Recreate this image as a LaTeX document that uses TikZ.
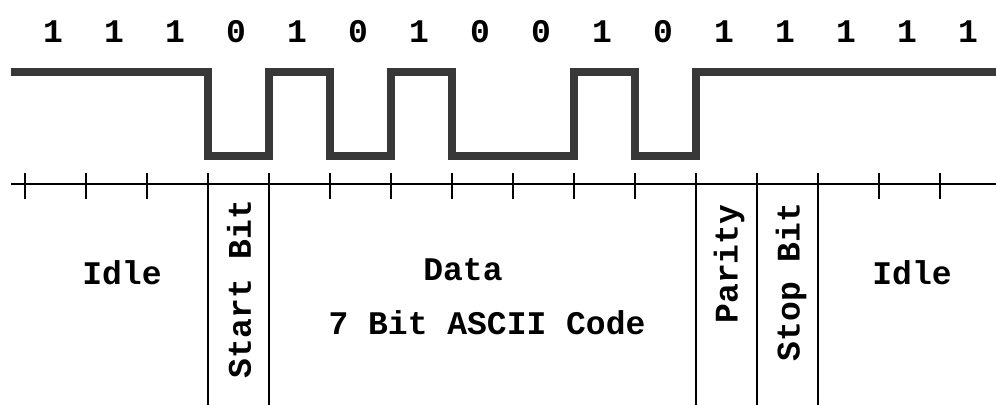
\documentclass[tikz,border=0pt]{standalone}
\usepackage{fontspec}
\setmonofont{Liberation Mono}
\usetikzlibrary{positioning}
\definecolor{signalgray}{HTML}{383838}

\tikzset{
  bitlabel/.style={font=\ttfamily\bfseries\fontsize{16.5}{18}\selectfont, inner sep=0pt},
  fieldlabel/.style={font=\ttfamily\bfseries\fontsize{16.5}{18}\selectfont, inner sep=0pt},
  signal/.style={draw=signalgray, line width=4pt, line join=miter},
  axisline/.style={draw=black, line width=1pt},
}

\begin{document}
\begin{tikzpicture}[x=0.5pt, y=-0.5pt]
  \useasboundingbox (0,0) rectangle (996,405);

  % bit values above the wave
  \foreach \b [count=\k from 0] in {1,1,1,0,1,0,1,0,0,1,0,1,1,1,1,1}
    \node[bitlabel] (b\k) at (53+61*\k,32) {\b};

  % the wave itself
  \draw[signal] (11,72) -| (208,156) -| (269,72) -| (330,156) -| (391,72)
    -| (452,156) -| (574,72) -| (635,156) -| (696,72) -- (996,72);

  % time axis with ticks
  \coordinate (axisstart) at (11,184);
  \coordinate (axisend) at (996,184);
  \draw[axisline] (axisstart) -- (axisend);
  \foreach \k in {0,...,15}
    \draw[axisline] (25+61*\k,173) -- (25+61*\k,199);

  % field dividers
  \foreach \k in {3,4,11,12,13}
    \draw[axisline] (25+61*\k,173) -- (25+61*\k,405);

  % field names
  \node[fieldlabel] (idleL) at (122,273) {Idle};
  \node[fieldlabel, rotate=90] (start) at (239,289) {Start Bit};
  \node[fieldlabel] (data) at (463,270) {Data};
  \node[fieldlabel] (ascii) at (487,323) {7 Bit ASCII Code};
  \node[fieldlabel, rotate=90] (parity) at (729,264) {Parity};
  \node[fieldlabel, rotate=90] (stop) at (791,282) {Stop Bit};
  \node[fieldlabel] (idleR) at (912,273) {Idle};
\end{tikzpicture}
\end{document}
